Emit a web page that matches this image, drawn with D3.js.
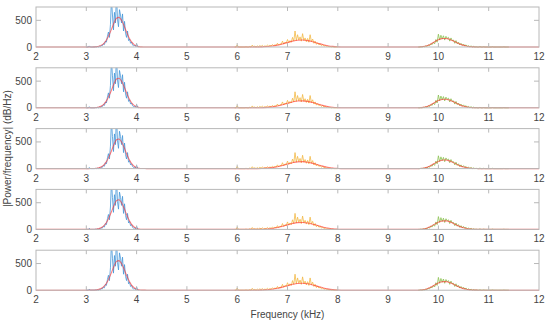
<!DOCTYPE html>
<html>
<head>
<meta charset="utf-8">
<script src="https://cdn.jsdelivr.net/npm/d3@7"></script>
<style>
  body { margin: 0; background: #fff; }
  svg { font-family: 'Liberation Sans', Arial, sans-serif; }
</style>
</head>
<body>
<div id="chart"></div>
<script>
// frequency bins (kHz): start + step * i
const blueStart = 3.0, blueStep = 0.02;
const blueValues = [0, 0, 0, 20, 0, 0, 0, 0, 0, 5, 0, 8, 0, 15, 5, 30, 25, 60, 45, 110,
  90, 200, 280, 180, 420, 900, 600, 320, 650, 450, 1000, 520, 380, 700, 600, 450, 620, 300, 480, 260,
  180, 300, 120, 150, 70, 90, 40, 20, 30, 10, 60, 10, 0];

const orangeStart = 5.95, orangeStep = 0.025;
const orangeValues = [0, 0, 40, 0, 0, 0, 0, 0, 0, 5, 0, 0, 10, 0, 35, 5, 15, 0, 20, 5,
  25, 10, 30, 8, 20, 12, 35, 15, 30, 20, 45, 25, 40, 30, 70, 35, 60, 50, 110, 55,
  90, 70, 140, 80, 120, 90, 180, 110, 300, 120, 230, 130, 190, 110, 250, 120, 170, 100, 160, 90,
  230, 100, 150, 70, 110, 50, 80, 40, 60, 25, 45, 15, 30, 10, 15, 5, 8, 0, 5, 0,
  0, 0, 0];

const greenStart = 9.6, greenStep = 0.025;
const greenValues = [0, 0, 5, 0, 10, 5, 20, 10, 40, 25, 60, 45, 90, 60, 140, 90, 240, 130, 220, 150,
  210, 130, 200, 160, 180, 110, 170, 120, 130, 70, 120, 60, 90, 40, 70, 30, 55, 20, 40, 10,
  25, 5, 20, 0, 12, 0, 5, 0, 0, 8, 0, 0, 5, 0, 0, 0, 0, 0, 0, 5,
  0, 0, 0, 0, 0, 0, 0, 0, 3, 0, 0, 0, 0];

// fitted curves (red)
const fit1Start = 3.0, fit1Step = 0.05;
const fit1Values = [0, 0, 1, 2, 6, 15, 35, 70, 130, 220, 330, 450, 540, 555, 500, 400, 280, 175, 95, 45, 18, 7, 2, 1, 0];
const fit2Start = 6.4, fit2Step = 0.1;
const fit2Values = [0, 3, 8, 18, 35, 58, 85, 110, 127, 130, 120, 98, 72, 46, 25, 11, 4, 0];
const fit3Start = 9.6, fit3Step = 0.05;
const fit3Values = [0, 3, 8, 18, 35, 58, 85, 112, 135, 152, 160, 160, 150, 133, 112, 88, 65, 45, 30, 18, 10, 5, 2, 1, 0];

const xTicks = [2, 3, 4, 5, 6, 7, 8, 9, 10, 11, 12];
const yTicks = [0, 500];
const panelCount = 5;

const toPoints = (start, step, values) => values.map((v, i) => ({ f: start + step * i, p: v }));

const blue = toPoints(blueStart, blueStep, blueValues);
const orange = toPoints(orangeStart, orangeStep, orangeValues);
const green = toPoints(greenStart, greenStep, greenValues);
const fit = [{ f: 2, p: 0 }]
  .concat(toPoints(fit1Start, fit1Step, fit1Values))
  .concat(toPoints(fit2Start, fit2Step, fit2Values))
  .concat(toPoints(fit3Start, fit3Step, fit3Values))
  .concat([{ f: 12, p: 0 }]);

const width = 550, height = 323;
const left = 36, right = 539;
const panelTop = 7, panelH = 40, panelGap = 60.8;

const svg = d3.select('#chart').append('svg')
  .attr('width', width)
  .attr('height', height);

const xScale = d3.scaleLinear().domain([2, 12]).range([left, right]);

const axisColor = '#b8b8b8';
const textColor = '#454545';

for (let k = 0; k < panelCount; k++) {
  const top = panelTop + k * panelGap;
  const yScale = d3.scaleLinear().domain([0, 750]).range([top + panelH, top]);

  const clipId = `clip${k}`;
  svg.append('clipPath').attr('id', clipId)
    .append('rect')
    .attr('x', left).attr('y', top)
    .attr('width', right - left).attr('height', panelH + 2);

  const g = svg.append('g');

  const line = d3.line()
    .x(d => xScale(d.f))
    .y(d => yScale(d.p));

  const plot = g.append('g').attr('clip-path', `url(#${clipId})`);

  plot.append('path').datum(blue)
    .attr('fill', 'none').attr('stroke', '#4597d8').attr('stroke-width', 0.8)
    .attr('d', line);
  plot.append('path').datum(orange)
    .attr('fill', 'none').attr('stroke', '#f3b945').attr('stroke-width', 0.8)
    .attr('d', line);
  plot.append('path').datum(green)
    .attr('fill', 'none').attr('stroke', '#8cc152').attr('stroke-width', 0.8)
    .attr('d', line);
  plot.append('path').datum(fit)
    .attr('fill', 'none').attr('stroke', '#ff2a2a').attr('stroke-opacity', 0.6)
    .attr('stroke-width', 1.1)
    .attr('d', line.curve(d3.curveMonotoneX));

  // box
  g.append('rect')
    .attr('x', left).attr('y', top)
    .attr('width', right - left).attr('height', panelH)
    .attr('fill', 'none').attr('stroke', axisColor).attr('stroke-width', 1);

  // x ticks, inward on top and bottom
  g.selectAll('.xt').data(xTicks.slice(1, -1)).enter().append('line')
    .attr('x1', d => xScale(d)).attr('x2', d => xScale(d))
    .attr('y1', top + panelH).attr('y2', top + panelH - 4)
    .attr('stroke', axisColor);
  g.selectAll('.xt2').data(xTicks.slice(1, -1)).enter().append('line')
    .attr('x1', d => xScale(d)).attr('x2', d => xScale(d))
    .attr('y1', top).attr('y2', top + 4)
    .attr('stroke', axisColor);

  // y ticks, inward on left and right
  g.selectAll('.yt').data(yTicks.slice(1)).enter().append('line')
    .attr('x1', left).attr('x2', left + 5)
    .attr('y1', d => yScale(d)).attr('y2', d => yScale(d))
    .attr('stroke', axisColor);
  g.selectAll('.yt2').data(yTicks.slice(1)).enter().append('line')
    .attr('x1', right).attr('x2', right - 5)
    .attr('y1', d => yScale(d)).attr('y2', d => yScale(d))
    .attr('stroke', axisColor);

  g.selectAll('.xl').data(xTicks).enter().append('text')
    .attr('x', d => xScale(d)).attr('y', top + panelH + 13)
    .attr('text-anchor', 'middle')
    .attr('font-size', 10).attr('fill', textColor)
    .text(d => d);

  g.selectAll('.yl').data(yTicks).enter().append('text')
    .attr('x', left - 4).attr('y', d => yScale(d) + 3.5)
    .attr('text-anchor', 'end')
    .attr('font-size', 10).attr('fill', textColor)
    .text(d => d);
}

svg.append('text')
  .attr('transform', `translate(11, ${(panelTop + panelTop + 4 * panelGap + panelH) / 2}) rotate(-90)`)
  .attr('text-anchor', 'middle')
  .attr('font-size', 10).attr('fill', textColor)
  .text('|Power/frequency| (dB/Hz)');

svg.append('text')
  .attr('x', (left + right) / 2).attr('y', 318)
  .attr('text-anchor', 'middle')
  .attr('font-size', 10).attr('fill', textColor)
  .text('Frequency (kHz)');
</script>
</body>
</html>
